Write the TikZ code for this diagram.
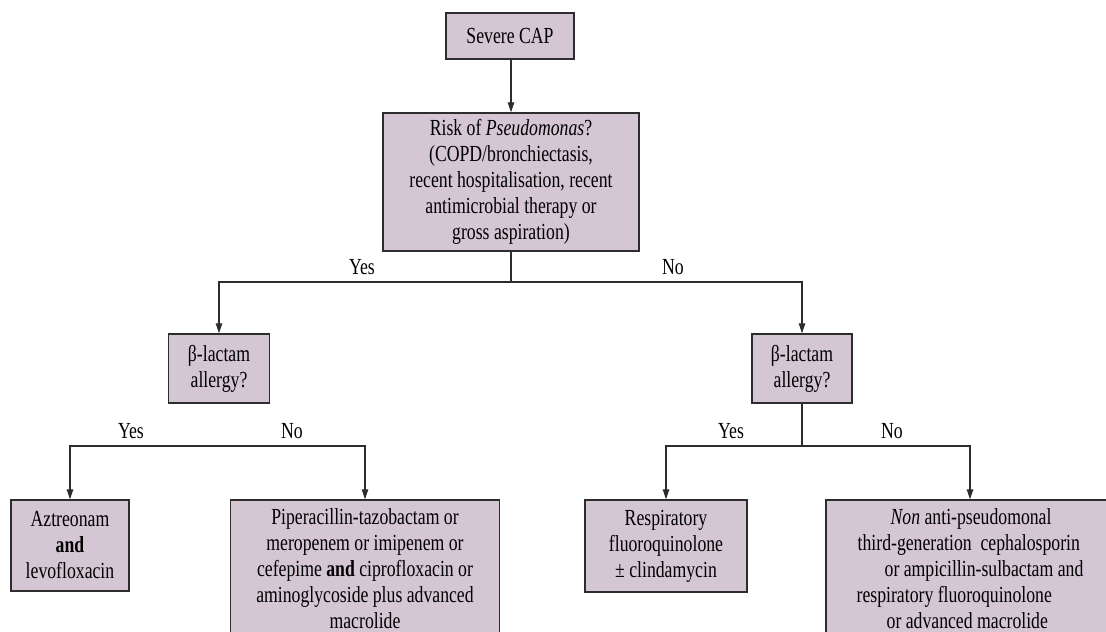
\documentclass[tikz,border=0pt]{standalone}
\usepackage{fontspec}
\setmainfont{Liberation Serif}[FakeStretch=0.77]
\usetikzlibrary{arrows.meta}
\definecolor{boxfill}{RGB}{213,198,212}
\definecolor{linecol}{RGB}{45,45,45}
\begin{document}
\begin{tikzpicture}[x=1pt,y=-1pt,
  box/.style={draw=linecol, line width=1.4pt, fill=boxfill, inner sep=0pt, align=center,
    font=\fontsize{23}{26}\selectfont},
  lab/.style={anchor=base, inner sep=0pt, font=\fontsize{23}{26}\selectfont},
  conn/.style={draw=linecol, line width=1.2pt},
  arr/.style={conn, -{Triangle[length=10pt,width=6.5pt]}}]
\useasboundingbox (0,0) rectangle (1106,632);
\clip (0,0) rectangle (1106,632);
\node[box, minimum width=128, minimum height=46] (cap) at (510,36) {Severe CAP};
\node[box, minimum width=256, minimum height=138] (risk) at (511,182)
  {Risk of \textit{Pseudomonas}?\\(COPD/bronchiectasis,\\recent hospitalisation, recent\\antimicrobial therapy or\\gross aspiration)};
\node[box, minimum width=101, minimum height=69] (bl) at (219,368.5) {β-lactam\\allergy?};
\node[box, minimum width=100, minimum height=69] (br) at (802,368.5) {β-lactam\\allergy?};
\node[box, minimum width=118, minimum height=91] (az) at (70,545.5) {Aztreonam\\\textbf{and}\\levofloxacin};
\node[box, minimum width=269, minimum height=138] (pip) at (365,569)
  {Piperacillin-tazobactam or\\meropenem or imipenem or\\cefepime \textbf{and} ciprofloxacin or\\aminoglycoside plus advanced\\macrolide};
\node[box, minimum width=162, minimum height=92] (resp) at (666,546) {Respiratory\\fluoroquinolone\\± clindamycin};
\node[box, minimum width=288, minimum height=138, align=left] (non) at (970,569)
  {\hspace*{34pt}\textit{Non} anti-pseudomonal\\
   \hspace*{1pt}third-generation\ \ cephalosporin\\
   \hspace*{28pt}or ampicillin-sulbactam and\\
   respiratory fluoroquinolone\\
   \hspace*{30pt}or advanced macrolide};
\coordinate (j1) at (511,282);
\coordinate (j2) at (219,446);
\coordinate (j3) at (802,446);
\draw[arr] (cap.south -| risk.north) -- (risk.north);
\draw[conn] (risk.south) -- (j1);
\draw[arr] (j1) -| (bl.north);
\draw[arr] (j1) -| (br.north);
\draw[arr] (j2) -| (az.north);
\draw[arr] (j2) -| (pip.north);
\draw[conn] (br.south) -- (j3);
\draw[arr] (j3) -| (resp.north);
\draw[arr] (j3) -| (non.north);
\node[lab] (y1) at (362,274) {Yes};
\node[lab] (n1) at (673,274) {No};
\node[lab] (y2) at (131,438) {Yes};
\node[lab] (n2) at (292,438) {No};
\node[lab] (y3) at (731,438) {Yes};
\node[lab] (n3) at (892,438) {No};
\end{tikzpicture}
\end{document}
